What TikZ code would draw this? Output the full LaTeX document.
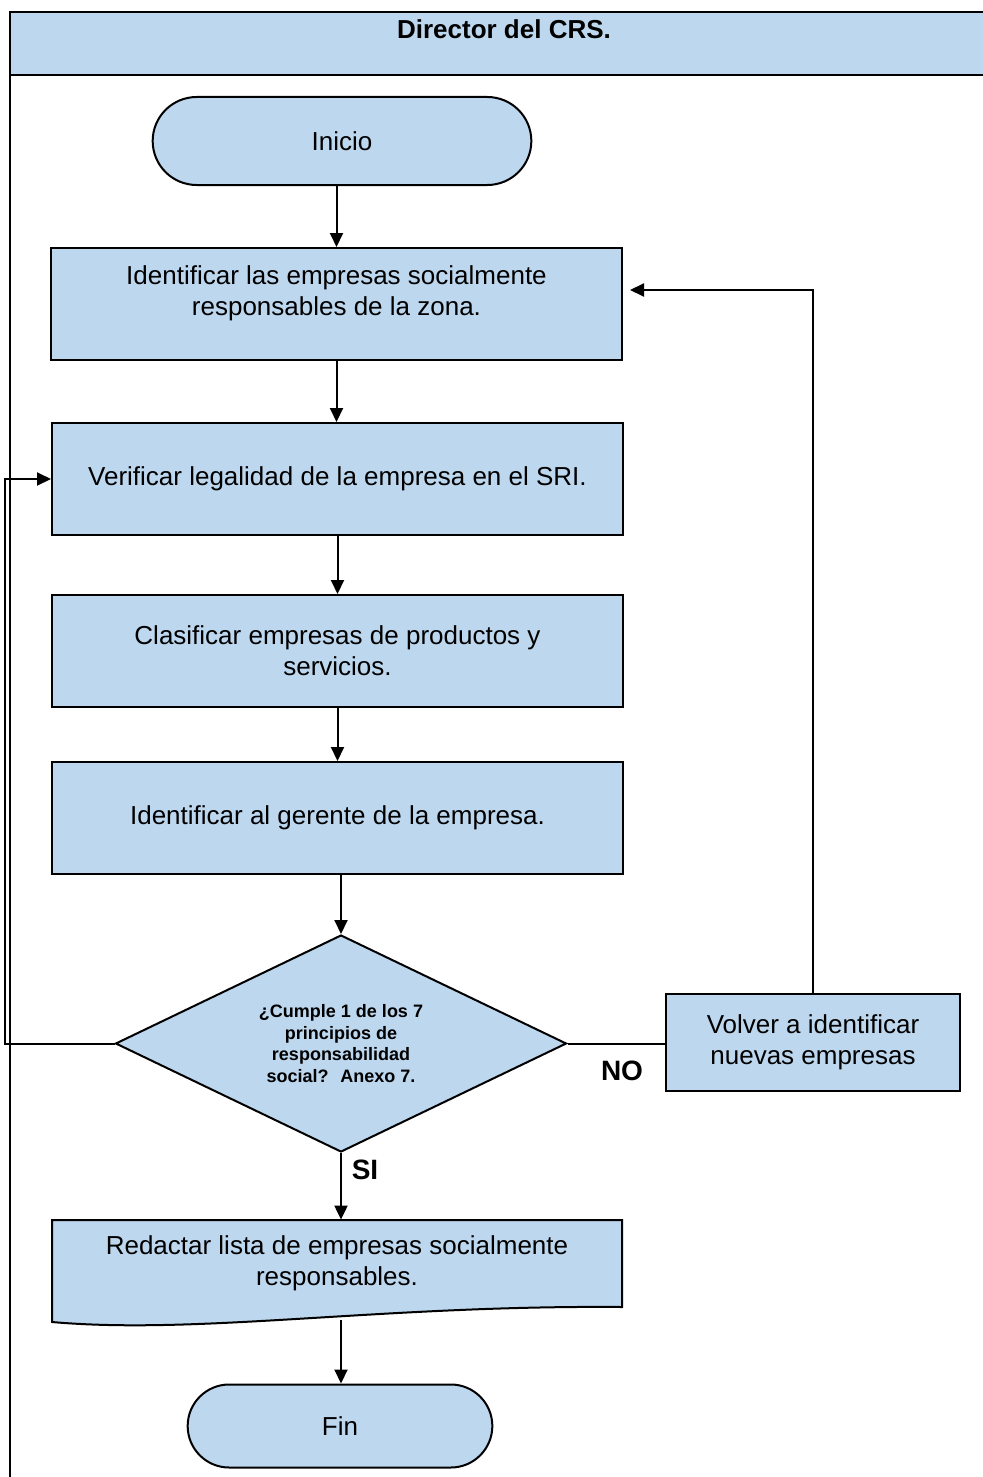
\documentclass[tikz,border=0pt]{standalone}
\usepackage{fontspec}
\setmainfont{Liberation Sans}
\usepackage{xcolor}
\usetikzlibrary{arrows.meta, positioning}
\usetikzlibrary{shapes.geometric, shapes.misc}
\definecolor{cajaazul}{RGB}{189,215,238}

\begin{document}
\begin{tikzpicture}[
    x=0.5pt, y=-0.5pt,
    every node/.style={font=\fontsize{13}{15.5}\selectfont},
    box/.style={draw, fill=cajaazul, line width=1pt, align=center, minimum width=285.5pt, minimum height=56pt},
    term/.style={draw, fill=cajaazul, line width=1pt, rounded rectangle},
    decision/.style={draw, fill=cajaazul, line width=1pt, diamond, aspect=2.08, inner sep=0pt, align=center, font=\fontsize{9}{10.85}\selectfont\bfseries},
    tag/.style={font=\fontsize{14}{16}\selectfont\bfseries},
    arrow/.style={-{Triangle[length=7pt, width=6.5pt]}, line width=1pt},
    line/.style={line width=1pt}
]
\useasboundingbox (0,0) rectangle (983,1477);
\clip (0,0) rectangle (983,1477);

% --- Lane header ---
\draw[line] (10,12) rectangle (1000,1500);
\draw[line, fill=cajaazul] (10,12) rectangle (1000,75);
\node[font=\fontsize{13}{15.5}\selectfont\bfseries] (titulo) at (504,29) {Director del CRS.};

% --- Main flow ---
\node[term, minimum width=196pt, minimum height=44pt] (inicio) at (342,141) {Inicio};
\node[box, label={[align=center, yshift=5.5pt]center:Identificar las empresas socialmente\\ responsables de la zona.}] (b1) at (336.5,304) {};
\node[box] (b2) at (337.5,479) {Verificar legalidad de la empresa en el SRI.};
\node[box] (b3) at (337.5,651) {Clasificar empresas de productos y\\ servicios.};
\node[box] (b4) at (337.5,818) {Identificar al gerente de la empresa.};
\node[decision, minimum width=225.5pt, minimum height=108.5pt] (dec) at (341,1043.5) {¿Cumple 1 de los 7\\ principios de\\ responsabilidad\\ social?~ Anexo 7.};
\node[box, minimum width=147pt, minimum height=48.5pt] (volver) at (813,1042.5) {Volver a identificar\\ nuevas empresas};

% --- Document shape ---
\draw[line, fill=cajaazul] (52,1220) -- (622,1220) -- (622,1307) .. controls (380,1305) and (200,1335) .. (52,1322) -- cycle;
\node[align=center, minimum width=285pt, minimum height=43.5pt] (lista) at (337,1263.5) {Redactar lista de empresas socialmente\\ responsables.};
\coordinate (listab) at (341,1320);
\node[term, minimum width=159pt, minimum height=41.5pt] (fin) at (340,1426) {Fin};

% --- Connectors ---
\draw[arrow] (inicio.south -| b1) -- (b1.north);
\draw[arrow] (b1.south) -- (b1.south |- b2.north);
\draw[arrow] (b2.south) -- (b3.north);
\draw[arrow] (b3.south) -- (b4.north);
\draw[arrow] (b4.south -| dec) -- (dec.north);
\draw[arrow] (dec.south) -- (dec.south |- lista.north);
\draw[arrow] (listab) -- (listab |- fin.north);
\draw[line] (dec.east) -- (dec.east -| volver.west);
\draw[arrow, shorten >=3.5pt] (volver.north) |- ([yshift=7pt]b1.east);
\coordinate (vuelta) at (5,1043.5);
\draw[arrow] (dec.west) -- (vuelta) |- (b2.west);

% --- Branch labels ---
\node[tag] (no) at (622,1071) {NO};
\node[tag] (si) at (365,1170) {SI};

\end{tikzpicture}
\end{document}
